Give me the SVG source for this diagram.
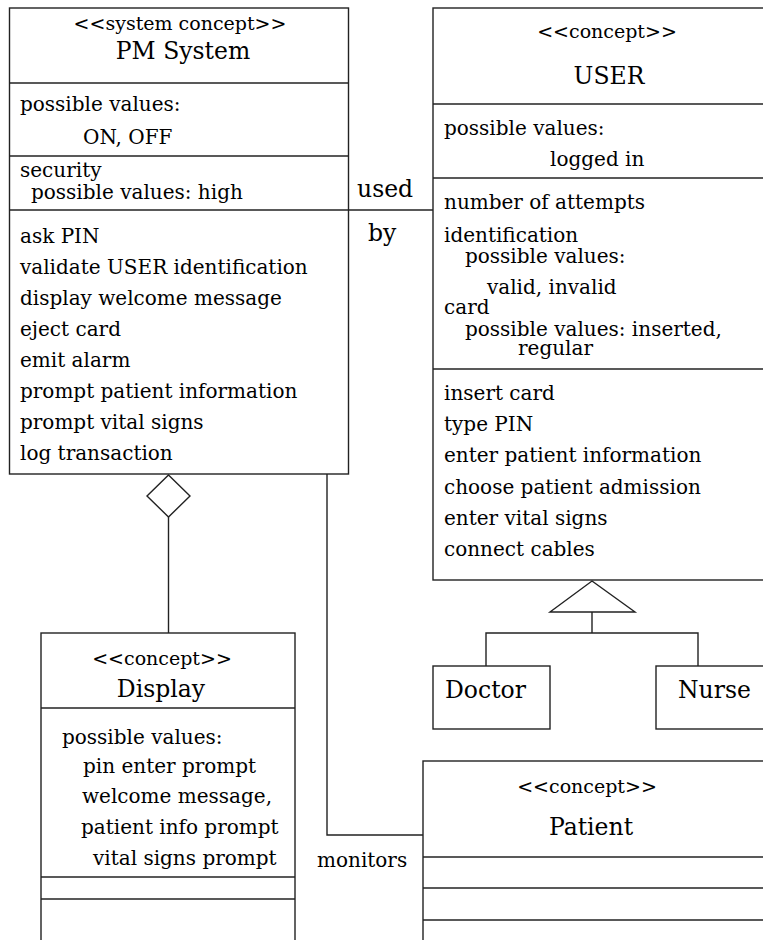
<svg xmlns="http://www.w3.org/2000/svg" width="763" height="940" viewBox="0 0 763 940">
<style>
  .box { fill: #ffffff; stroke: #222; stroke-width: 1.4; }
  .ln { stroke: #222; stroke-width: 1.4; fill: none; }
  text { font-family: "DejaVu Serif", serif; fill: #000; }
  .st { font-size: 19px; text-anchor: middle; }
  .nm { font-size: 23.5px; text-anchor: middle; }
  .bd { font-size: 20px; }
  .lb { font-size: 23.5px; }
</style>
<rect width="763" height="940" fill="#ffffff"/>

<g id="connectors">
  <line class="ln" x1="348.5" y1="210" x2="433" y2="210"/>
  <polygon class="ln" points="168.5,475 190,496 168.5,517 147,496" fill="#ffffff"/>
  <line class="ln" x1="168.5" y1="517" x2="168.5" y2="633"/>
  <polyline class="ln" points="327,474 327,835 423,835"/>
  <polygon class="ln" points="592,581 635,612 550,612" fill="#ffffff"/>
  <line class="ln" x1="592" y1="612" x2="592" y2="633"/>
  <polyline class="ln" points="486,666 486,633 698,633 698,666"/>
  <text class="lb" x="357" y="197">used</text>
  <text class="lb" x="368" y="241">by</text>
  <text class="bd" x="317" y="867">monitors</text>
</g>

<g id="pm-system">
  <rect class="box" x="9.5" y="8" width="339" height="466"/>
  <line class="ln" x1="9.5" y1="83" x2="348.5" y2="83"/>
  <line class="ln" x1="9.5" y1="156" x2="348.5" y2="156"/>
  <line class="ln" x1="9.5" y1="210" x2="348.5" y2="210"/>
  <text class="st" x="180" y="30">&lt;&lt;system concept&gt;&gt;</text>
  <text class="nm" x="183" y="59">PM System</text>
  <text class="bd" x="20" y="111">possible values:</text>
  <text class="bd" x="83" y="144">ON, OFF</text>
  <text class="bd" x="20" y="177">security</text>
  <text class="bd" x="31" y="199">possible values: high</text>
  <text class="bd" x="20" y="243">ask PIN</text>
  <text class="bd" x="20" y="274">validate USER identification</text>
  <text class="bd" x="20" y="305">display welcome message</text>
  <text class="bd" x="20" y="336">eject card</text>
  <text class="bd" x="20" y="367">emit alarm</text>
  <text class="bd" x="20" y="398">prompt patient information</text>
  <text class="bd" x="20" y="429">prompt vital signs</text>
  <text class="bd" x="20" y="460">log transaction</text>
</g>

<g id="user">
  <rect class="box" x="433" y="8" width="360" height="572"/>
  <line class="ln" x1="433" y1="104" x2="793" y2="104"/>
  <line class="ln" x1="433" y1="178" x2="793" y2="178"/>
  <line class="ln" x1="433" y1="369" x2="793" y2="369"/>
  <text class="st" x="607" y="38">&lt;&lt;concept&gt;&gt;</text>
  <text class="nm" x="609" y="84">USER</text>
  <text class="bd" x="444" y="135">possible values:</text>
  <text class="bd" x="550" y="166">logged in</text>
  <text class="bd" x="444" y="209">number of attempts</text>
  <text class="bd" x="444" y="242">identification</text>
  <text class="bd" x="465" y="263">possible values:</text>
  <text class="bd" x="487" y="294">valid, invalid</text>
  <text class="bd" x="444" y="314">card</text>
  <text class="bd" x="465" y="336">possible values: inserted,</text>
  <text class="bd" x="518" y="355">regular</text>
  <text class="bd" x="444" y="400">insert card</text>
  <text class="bd" x="444" y="431">type PIN</text>
  <text class="bd" x="444" y="462">enter patient information</text>
  <text class="bd" x="444" y="494">choose patient admission</text>
  <text class="bd" x="444" y="525">enter vital signs</text>
  <text class="bd" x="444" y="556">connect cables</text>
</g>

<g id="doctor">
  <rect class="box" x="433" y="666" width="117" height="63"/>
  <text class="lb" x="445" y="698">Doctor</text>
</g>

<g id="nurse">
  <rect class="box" x="656" y="666" width="140" height="63"/>
  <text class="lb" x="678" y="698">Nurse</text>
</g>

<g id="display">
  <rect class="box" x="41" y="633" width="254" height="330"/>
  <line class="ln" x1="41" y1="708" x2="295" y2="708"/>
  <line class="ln" x1="41" y1="877" x2="295" y2="877"/>
  <line class="ln" x1="41" y1="899" x2="295" y2="899"/>
  <text class="st" x="162" y="665">&lt;&lt;concept&gt;&gt;</text>
  <text class="nm" x="161" y="697">Display</text>
  <text class="bd" x="62" y="744">possible values:</text>
  <text class="bd" x="83" y="773">pin enter prompt</text>
  <text class="bd" x="82" y="803">welcome message,</text>
  <text class="bd" x="81" y="834">patient info prompt</text>
  <text class="bd" x="93" y="865">vital signs prompt</text>
</g>

<g id="patient">
  <rect class="box" x="423" y="761" width="370" height="200"/>
  <line class="ln" x1="423" y1="857" x2="793" y2="857"/>
  <line class="ln" x1="423" y1="888" x2="793" y2="888"/>
  <line class="ln" x1="423" y1="920" x2="793" y2="920"/>
  <text class="st" x="587" y="793">&lt;&lt;concept&gt;&gt;</text>
  <text class="nm" x="591" y="835">Patient</text>
</g>
</svg>
